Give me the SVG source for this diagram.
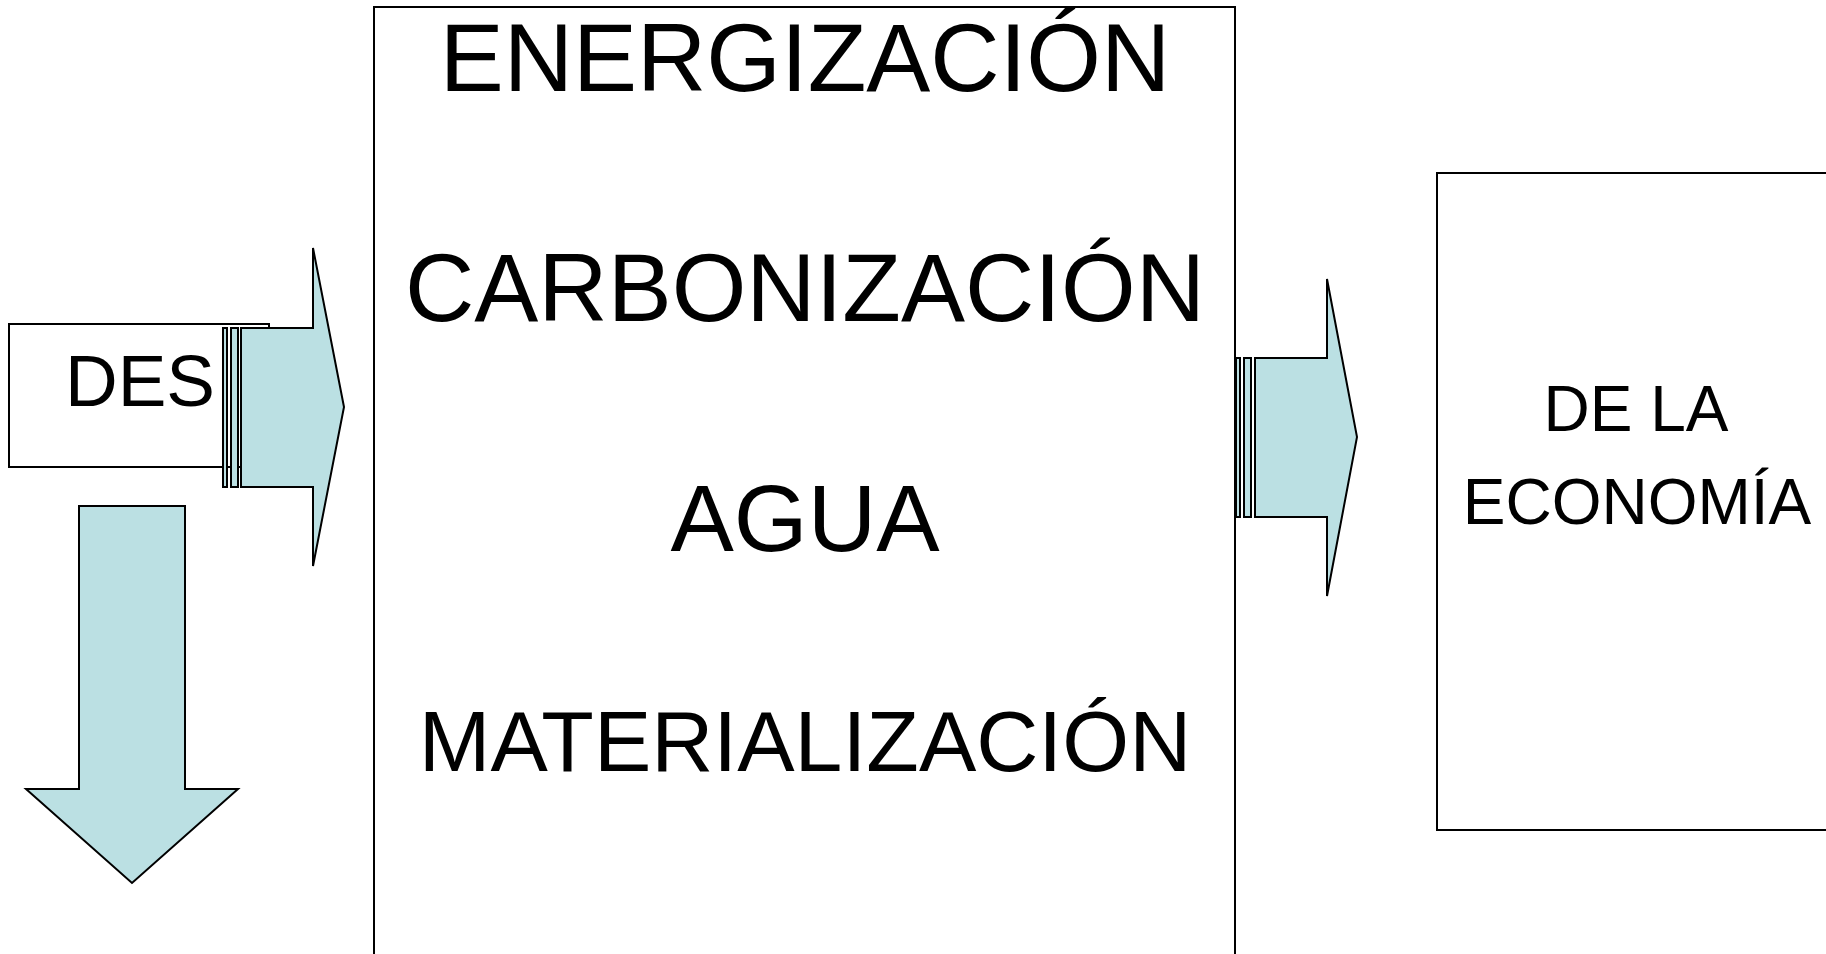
<svg xmlns="http://www.w3.org/2000/svg" width="1826" height="954" viewBox="0 0 1826 954">
<style>
.box{fill:#fff;stroke:#000;stroke-width:2}
.arr{fill:#BBE0E3;stroke:#000;stroke-width:2;stroke-linejoin:miter}
.t{font-family:"Liberation Sans",Arial,sans-serif;fill:#000;text-anchor:middle}
</style>
<rect width="1826" height="954" fill="#fff"/>
<g id="des">
<rect class="box" x="9" y="324" width="260" height="143"/>
<text class="t" x="140" y="406" font-size="73">DES</text>
</g>
<g id="center">
<rect class="box" x="374" y="7" width="861" height="960"/>
<text class="t" x="805" y="91" font-size="96">ENERGIZACIÓN</text>
<text class="t" x="805" y="321" font-size="96">CARBONIZACIÓN</text>
<text class="t" x="805" y="551" font-size="95">AGUA</text>
<text class="t" x="805" y="771" font-size="86">MATERIALIZACIÓN</text>
</g>
<g id="economia">
<rect class="box" x="1437" y="173" width="400" height="657"/>
<text class="t" x="1636" y="431" font-size="64">DE LA</text>
<text class="t" x="1637" y="524" font-size="64">ECONOMÍA</text>
</g>
<g id="connectors">
<rect class="arr" x="223" y="328" width="4" height="159"/>
<rect class="arr" x="231" y="328" width="7" height="159"/>
<polygon class="arr" points="241,328 313,328 313,248 344,407 313,566 313,487 241,487"/>
<rect class="arr" x="1236" y="358" width="4" height="159"/>
<rect class="arr" x="1244" y="358" width="7" height="159"/>
<polygon class="arr" points="1255,358 1327,358 1327,279 1357,437 1327,596 1327,517 1255,517"/>
<polygon class="arr" points="79,506 185,506 185,789 238,789 132,883 26,789 79,789"/>
</g>
</svg>
